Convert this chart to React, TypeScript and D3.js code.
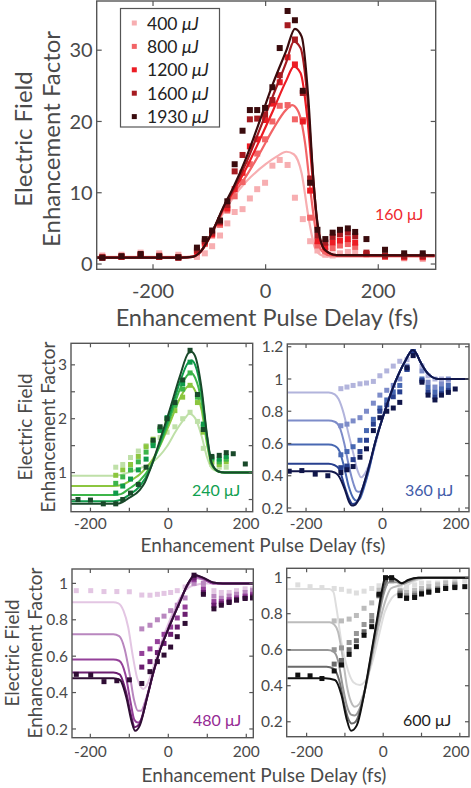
import React from 'react'
import * as d3 from 'd3'

const FONT = 'Lato, "Open Sans", sans-serif'
const INK = '#4a4a4a'

type Pt = [number, number]

// ---------- top panel (160 uJ probe)
const topEnergies = ['400', '800', '1200', '1600', '1930']
const topColors = ['#f7aeb1', '#f26466', '#ec1c24', '#a61b21', '#3a0b0d']
const topDelay = [-290, -256, -222, -189, -155, -122, -108, -95, -81, -68, -55, -41, -28, -15, -1, 12, 25, 39, 52, 66, 79, 92, 106, 119, 132, 146, 159, 179, 212, 246, 279]
const top400 = [1.2, 1.3, 1.6, 1.5, 1.3, 1.0, 1.5, 2.5, 4.0, 5.7, 7.3, 7.7, 9.2, 10.5, 11.4, 13.8, 14.6, 13.9, 9.3, 6.3, 3.2, 1.9, 1.3, 1.2, 1.5, 1.7, 1.6, 1.3, 1.0, 0.8, 0.7]
const top800 = [1.0, 1.1, 1.3, 1.2, 1.0, 1.6, 2.8, 4.0, 5.5, 7.5, 9.5, 11.5, 14.0, 15.5, 17.5, 20.0, 22.2, 22.3, 20.3, 20.2, 6.5, 2.6, 1.8, 2.2, 2.6, 2.8, 2.4, 1.4, 1.0, 0.9, 0.9]
const top1200 = [0.9, 1.0, 1.2, 1.0, 0.9, 1.8, 3.0, 4.2, 5.8, 7.8, 10.5, 12.8, 16.5, 17.5, 20.2, 22.5, 25.5, 29.0, 28.0, 20.0, 10.3, 3.2, 2.4, 3.0, 3.3, 3.5, 3.0, 1.4, 1.1, 1.0, 1.0]
const top1600 = [0.9, 1.0, 1.3, 1.0, 0.9, 2.0, 3.2, 4.4, 5.9, 8.3, 13.0, 15.3, 20.3, 20.4, 21.0, 23.0, 26.5, 33.5, 31.5, 24.0, 12.0, 4.0, 3.0, 3.8, 4.2, 4.4, 3.9, 1.6, 1.2, 1.1, 1.1]
const top1930 = [0.9, 1.1, 1.4, 1.1, 0.95, 2.3, 3.5, 4.7, 6.1, 8.8, 14.0, 18.7, 21.6, 21.6, 21.9, 24.8, 30.3, 35.5, 34.2, 24.3, 11.4, 4.8, 3.5, 4.4, 4.8, 5.0, 4.5, 3.5, 2.0, 1.5, 1.5]
const topFit400: Pt[] = [[-300, 1.0], [-150, 1.0], [-130, 1.05], [-115, 1.7], [-93, 4.6], [-75, 7.2], [-57, 9.4], [-34, 11.6], [0, 14.0], [20, 15.1], [37, 15.75], [50, 15.4], [64, 12.7], [76, 6.6], [88, 2.2], [100, 1.2], [115, 1.05], [300, 1.05]]
const topFit800: Pt[] = [[-300, 0.95], [-150, 0.95], [-130, 1.05], [-115, 1.75], [-93, 4.7], [-75, 7.5], [-57, 9.8], [-34, 12.4], [-10, 15.6], [13, 18.9], [37, 21.7], [47, 22.3], [58, 21.4], [70, 17], [80, 10], [90, 4.2], [100, 1.8], [115, 1.2], [300, 1.1]]
const topFit1200: Pt[] = [[-300, 0.9], [-150, 0.9], [-130, 1.0], [-115, 1.8], [-93, 4.8], [-75, 7.8], [-57, 10.2], [-34, 13.5], [-10, 17.5], [13, 21.5], [37, 25.8], [50, 27.7], [62, 26.8], [74, 20.5], [84, 11.5], [93, 4.7], [105, 1.9], [126, 1.2], [300, 1.15]]
const topFit1600: Pt[] = [[-300, 0.9], [-150, 0.9], [-130, 1.0], [-115, 1.8], [-93, 4.8], [-75, 7.9], [-57, 10.5], [-34, 14.3], [-10, 19.0], [13, 23.6], [37, 28.4], [50, 31.2], [62, 30.3], [74, 23.5], [84, 12.5], [93, 5.0], [105, 2.0], [126, 1.25], [300, 1.2]]
const topFit1930: Pt[] = [[-300, 0.9], [-150, 0.9], [-130, 1.0], [-115, 1.8], [-93, 4.8], [-75, 8.0], [-57, 10.8], [-34, 15.0], [-10, 20.2], [13, 25.3], [37, 30.0], [52, 33.0], [64, 31.9], [76, 23], [84, 12.7], [93, 5.2], [105, 2.0], [126, 1.26], [300, 1.2]]

// ---------- 240 uJ (green)
const greenColors = ['#bfe0a8', '#8cc63f', '#3db54a', '#0f9a4a', '#19492a']
const greenDelayAll = [-232, -200, -167, -135, -117, -97, -77, -57, -39, -21, -3, 17, 37, 56, 75, 90, 112, 131, 149, 167, 198]
const greenDelay = [-135, -117, -97, -77, -57, -39, -21, -3, 17, 37, 56, 75, 90, 112, 131, 149]
const green1 = [1.1, 1.15, 1.28, 1.4, 1.5, 1.58, 1.65, 1.75, 1.85, 2.0, 2.12, 1.95, 1.45, 1.15, 1.1, 1.1]
const green2 = [0.95, 1.05, 1.15, 1.3, 1.48, 1.62, 1.8, 1.95, 2.15, 2.4, 2.62, 2.3, 1.75, 1.2, 1.15, 1.2]
const green3 = [0.8, 0.92, 1.05, 1.2, 1.38, 1.55, 1.82, 2.0, 2.25, 2.55, 2.85, 2.4, 1.85, 1.25, 1.2, 1.25]
const green4 = [0.62, 0.75, 0.88, 1.05, 1.25, 1.5, 1.78, 2.02, 2.3, 2.65, 3.05, 2.45, 1.9, 1.28, 1.25, 1.3]
const green5 = [0.5, 0.49, 0.42, 0.42, 0.5, 0.62, 0.78, 1.1, 1.6, 1.85, 2.0, 2.3, 2.72, 3.27, 2.45, 1.8, 1.3, 1.32, 1.37, 1.35, 1.16]
const greenFit1: Pt[] = [[-250, 0.94], [-140, 0.94], [-107, 0.99], [-73, 1.08], [-39, 1.2], [-4, 1.48], [22, 1.8], [43, 2.01], [54, 2.09], [69, 2.01], [86, 1.67], [99, 1.3], [112, 1.08], [125, 1.03], [140, 1.0], [217, 1.0]]
const greenFit2: Pt[] = [[-250, 0.75], [-140, 0.75], [-120, 0.77], [-100, 0.84], [-73, 0.97], [-47, 1.17], [-21, 1.5], [4, 1.92], [30, 2.38], [50, 2.6], [58, 2.62], [69, 2.52], [86, 2.15], [99, 1.55], [112, 1.13], [129, 1.02], [145, 1.0], [217, 1.0]]
const greenFit3: Pt[] = [[-250, 0.585], [-140, 0.585], [-122, 0.6], [-101, 0.7], [-73, 0.85], [-47, 1.1], [-21, 1.52], [4, 2.0], [30, 2.55], [52, 2.83], [59, 2.85], [69, 2.76], [86, 2.3], [99, 1.62], [112, 1.15], [129, 1.02], [145, 1.0], [217, 1.0]]
const greenFit4: Pt[] = [[-250, 0.47], [-140, 0.47], [-123, 0.49], [-102, 0.58], [-73, 0.75], [-47, 1.06], [-21, 1.56], [4, 2.08], [30, 2.68], [52, 3.05], [60, 3.08], [69, 3.0], [86, 2.45], [99, 1.7], [112, 1.16], [129, 1.02], [145, 1.0], [217, 1.0]]
const greenFit5: Pt[] = [[-250, 0.42], [-140, 0.42], [-124, 0.43], [-103, 0.52], [-73, 0.68], [-60, 0.82], [-47, 1.05], [-21, 1.61], [4, 2.17], [30, 2.79], [52, 3.22], [60, 3.24], [69, 3.16], [86, 2.54], [99, 1.73], [112, 1.17], [129, 1.02], [145, 1.0], [217, 1.0]]

// ---------- 360 uJ (blue)
const blueColors = ['#b2b4dc', '#7d8cc9', '#4868b2', '#28408f', '#10164a']
const blueDelayAll = [-244, -211, -176, -143, -109, -93, -77, -59, -42, -24, -7, 11, 28, 45, 64, 80, 103, 119, 137, 154, 172, 190]
const blueDelay = [-109, -93, -77, -59, -42, -24, -7, 11, 28, 45, 64, 80, 103, 119, 137, 154, 172]
const blue1 = [0.94, 0.95, 0.96, 0.97, 0.975, 0.985, 1.02, 1.05, 1.08, 1.11, 1.12, 1.15, 1.08, 1.02, 1.0, 1.0, 0.99]
const blue2 = [0.71, 0.72, 0.74, 0.76, 0.8, 0.85, 0.9, 0.93, 0.96, 1.0, 1.08, 1.17, 1.05, 0.98, 0.95, 0.97, 1.0]
const blue3 = [0.53, 0.55, 0.58, 0.62, 0.68, 0.75, 0.82, 0.87, 0.92, 0.96, 1.06, 1.17, 1.0, 0.95, 0.92, 0.94, 0.96]
const blue4 = [0.45, 0.46, 0.5, 0.55, 0.62, 0.72, 0.8, 0.84, 0.89, 0.92, 1.06, 1.17, 0.99, 0.92, 0.89, 0.91, 0.93]
const blue5 = [0.428, 0.432, 0.41, 0.4, 0.42, 0.437, 0.457, 0.515, 0.567, 0.68, 0.76, 0.8, 0.82, 0.855, 1.07, 1.145, 0.98, 0.9, 0.87, 0.9, 0.917, 0.938]
const blueFit1: Pt[] = [[-250, 0.917], [-141, 0.917], [-125, 0.905], [-115, 0.876], [-102, 0.79], [-89, 0.66], [-76, 0.535], [-65, 0.43], [-56, 0.39], [-47, 0.41], [-35, 0.47], [-20, 0.58], [-5, 0.72], [6, 0.81], [33, 0.98], [59, 1.11], [79, 1.18], [88, 1.16], [98, 1.11], [120, 1.03], [146, 1.0], [228, 1.0]]
const blueFit2: Pt[] = [[-250, 0.742], [-141, 0.742], [-125, 0.735], [-112, 0.7], [-100, 0.6], [-88, 0.46], [-76, 0.35], [-68, 0.305], [-60, 0.3], [-50, 0.33], [-35, 0.45], [-20, 0.6], [6, 0.8], [33, 0.98], [59, 1.11], [79, 1.18], [88, 1.16], [98, 1.11], [120, 1.03], [146, 1.0], [228, 1.0]]
const blueFit3: Pt[] = [[-250, 0.593], [-141, 0.593], [-125, 0.585], [-112, 0.55], [-100, 0.45], [-88, 0.33], [-76, 0.26], [-68, 0.245], [-60, 0.255], [-48, 0.33], [-35, 0.44], [-20, 0.6], [6, 0.8], [33, 0.98], [59, 1.11], [79, 1.18], [88, 1.16], [98, 1.11], [120, 1.03], [146, 1.0], [228, 1.0]]
const blueFit4: Pt[] = [[-250, 0.474], [-141, 0.474], [-125, 0.465], [-113, 0.44], [-100, 0.34], [-88, 0.26], [-78, 0.225], [-70, 0.23], [-60, 0.27], [-45, 0.38], [-30, 0.5], [-20, 0.6], [6, 0.8], [33, 0.98], [59, 1.11], [79, 1.18], [88, 1.16], [98, 1.11], [120, 1.03], [146, 1.0], [228, 1.0]]
const blueFit5: Pt[] = [[-250, 0.428], [-141, 0.428], [-125, 0.42], [-115, 0.4], [-98, 0.31], [-88, 0.24], [-80, 0.215], [-72, 0.22], [-63, 0.25], [-41, 0.41], [-20, 0.6], [6, 0.8], [33, 0.98], [59, 1.11], [79, 1.18], [88, 1.16], [98, 1.11], [120, 1.03], [146, 1.0], [228, 1.0]]

// ---------- 480 uJ (purple)
const purpleColors = ['#e3c6e3', '#b987bf', '#944099', '#6b1e70', '#2f0d34']
const purpleDelayAll = [-236, -199, -165, -132, -100, -68, -47, -28, -11, 6, 23, 43, 66, 90, 117, 136, 156, 175, 197, 216]
const purpleDelay = [-68, -47, -28, -11, 6, 23, 43, 66, 90, 117, 136, 156, 175, 197, 216]
const purple1 = [0.96, 0.96, 0.955, 0.955, 0.954, 0.936, 0.935, 0.94, 0.945, 0.95, 0.96, 0.98, 1.0, 1.0, 0.96, 0.95, 0.95, 0.96, 0.97, 0.97]
const purple2 = [0.75, 0.77, 0.8, 0.82, 0.85, 0.88, 0.92, 1.0, 1.0, 0.93, 0.92, 0.93, 0.94, 0.95, 0.96]
const purple3 = [0.615, 0.64, 0.68, 0.72, 0.76, 0.81, 0.87, 1.02, 0.97, 0.9, 0.9, 0.91, 0.92, 0.93, 0.94]
const purple4 = [0.54, 0.57, 0.62, 0.67, 0.72, 0.76, 0.83, 1.03, 0.95, 0.88, 0.89, 0.9, 0.91, 0.92, 0.93]
const purple5 = [0.5, 0.496, 0.46, 0.465, 0.47, 0.45, 0.515, 0.57, 0.606, 0.65, 0.707, 0.78, 1.045, 0.94, 0.86, 0.88, 0.895, 0.908, 0.917, 0.92]
const purpleFit1: Pt[] = [[-250, 0.896], [-141, 0.896], [-128, 0.89], [-115, 0.85], [-103, 0.76], [-91, 0.6], [-80, 0.48], [-70, 0.43], [-64, 0.42], [-55, 0.44], [-40, 0.53], [-21, 0.66], [4, 0.8], [30, 0.92], [51, 0.975], [68, 0.99], [90, 1.0], [220, 1.0]]
const purpleFit2: Pt[] = [[-250, 0.72], [-141, 0.72], [-126, 0.71], [-112, 0.64], [-99, 0.5], [-88, 0.36], [-78, 0.3], [-70, 0.3], [-58, 0.36], [-42, 0.48], [-21, 0.64], [4, 0.78], [30, 0.91], [51, 0.99], [68, 1.03], [90, 1.02], [115, 1.0], [220, 1.0]]
const purpleFit3: Pt[] = [[-250, 0.582], [-141, 0.582], [-126, 0.575], [-110, 0.5], [-97, 0.35], [-87, 0.25], [-78, 0.235], [-68, 0.26], [-55, 0.37], [-38, 0.51], [-21, 0.635], [4, 0.77], [30, 0.9], [51, 1.0], [68, 1.04], [90, 1.025], [115, 1.0], [220, 1.0]]
const purpleFit4: Pt[] = [[-250, 0.51], [-141, 0.51], [-125, 0.5], [-108, 0.4], [-95, 0.27], [-86, 0.21], [-75, 0.225], [-55, 0.368], [-38, 0.514], [-21, 0.634], [4, 0.77], [30, 0.9], [51, 1.0], [68, 1.045], [90, 1.03], [115, 1.005], [140, 1.0], [220, 1.0]]
const purpleFit5: Pt[] = [[-250, 0.478], [-141, 0.478], [-124, 0.469], [-107, 0.368], [-94, 0.24], [-85, 0.19], [-73, 0.22], [-55, 0.368], [-38, 0.514], [-21, 0.634], [4, 0.77], [30, 0.9], [51, 1.0], [68, 1.046], [90, 1.03], [115, 1.005], [140, 1.0], [220, 1.0]]

// ---------- 600 uJ (gray)
const grayColors = ['#dedede', '#bcbcbc', '#979797', '#6a6a6a', '#111111']
const grayDelayAll = [-223, -191, -160, -128, -109, -89, -70, -50, -30, -11, 6, 22, 44, 61, 82, 100, 119, 142, 163, 187, 213]
const grayDelay = [-128, -109, -89, -70, -50, -30, -11, 6, 22, 44, 61, 82, 100, 119, 142, 163, 187]
const gray1 = [0.96, 0.95, 0.945, 0.94, 0.935, 0.925, 0.915, 0.925, 0.94, 0.955, 0.97, 0.98, 0.96, 0.95, 0.96, 0.97, 0.97, 0.97, 0.975, 0.98, 0.98]
const gray2 = [0.76, 0.76, 0.77, 0.79, 0.83, 0.86, 0.93, 0.97, 0.99, 0.93, 0.92, 0.93, 0.94, 0.95, 0.96, 0.97, 0.97]
const gray3 = [0.6, 0.61, 0.64, 0.69, 0.74, 0.79, 0.9, 0.98, 0.99, 0.92, 0.9, 0.91, 0.92, 0.93, 0.94, 0.95, 0.96]
const gray4 = [0.52, 0.54, 0.6, 0.65, 0.7, 0.76, 0.9, 0.99, 0.99, 0.91, 0.89, 0.9, 0.91, 0.92, 0.93, 0.94, 0.95]
const gray5 = [0.459, 0.455, 0.44, 0.482, 0.515, 0.574, 0.617, 0.68, 0.728, 0.908, 1.0, 1.0, 0.9, 0.885, 0.89, 0.91, 0.92, 0.93, 0.94, 0.945, 0.95]
const grayFit1: Pt[] = [[-250, 0.937], [-140, 0.937], [-130, 0.92], [-122, 0.83], [-109, 0.64], [-96, 0.515], [-78, 0.42], [-61, 0.404], [-43, 0.44], [-26, 0.55], [-9, 0.7], [4, 0.81], [22, 0.886], [44, 0.92], [65, 0.96], [91, 0.99], [120, 1.0], [226, 1.0]]
const grayFit2: Pt[] = [[-250, 0.752], [-140, 0.752], [-128, 0.74], [-118, 0.7], [-106, 0.56], [-95, 0.4], [-84, 0.31], [-74, 0.283], [-62, 0.3], [-48, 0.38], [-30, 0.55], [-12, 0.73], [4, 0.86], [20, 0.94], [40, 0.955], [60, 0.97], [85, 0.99], [110, 1.0], [226, 1.0]]
const grayFit3: Pt[] = [[-250, 0.598], [-145, 0.598], [-130, 0.59], [-118, 0.54], [-106, 0.4], [-95, 0.29], [-84, 0.24], [-74, 0.235], [-62, 0.27], [-48, 0.37], [-32, 0.54], [-15, 0.74], [0, 0.9], [15, 0.975], [35, 0.975], [50, 0.965], [68, 0.98], [95, 1.0], [226, 1.0]]
const grayFit4: Pt[] = [[-250, 0.505], [-148, 0.505], [-130, 0.495], [-115, 0.43], [-102, 0.3], [-92, 0.22], [-82, 0.19], [-72, 0.2], [-58, 0.28], [-42, 0.44], [-25, 0.65], [-8, 0.85], [4, 0.96], [17, 1.0], [35, 0.985], [48, 0.97], [65, 0.985], [91, 1.0], [226, 1.0]]
const grayFit5: Pt[] = [[-250, 0.441], [-152, 0.441], [-126, 0.432], [-109, 0.348], [-96, 0.22], [-84, 0.15], [-69, 0.18], [-52, 0.33], [-35, 0.533], [-17, 0.756], [-4, 0.922], [4, 0.993], [17, 1.005], [35, 0.987], [48, 0.969], [65, 0.987], [91, 1.0], [226, 1.0]]

type Series = { color: string; xs: number[]; ys: number[]; fit: Pt[] }

type PanelProps = {
  id: string
  left: number; top: number; right: number; bottom: number
  xDomain: [number, number]; yDomain: [number, number]
  xTicks: number[]; xMarks: number[]
  yTicks: number[]; yMarks: number[]
  fontSize: number; xLabelY: number
  mark: number; lineWidth: number; tickLen: number
  series: Series[]
}

function Panel(p: PanelProps) {
  const x = d3.scaleLinear().domain(p.xDomain).range([p.left, p.right])
  const y = d3.scaleLinear().domain(p.yDomain).range([p.bottom, p.top])
  const line = d3.line<Pt>().x(d => x(d[0])).y(d => y(d[1])).curve(d3.curveMonotoneX)
  const h = p.mark / 2
  return (
    <g>
      <defs>
        <clipPath id={p.id}>
          <rect x={p.left} y={p.top} width={p.right - p.left} height={p.bottom - p.top} />
        </clipPath>
      </defs>
      <g clipPath={`url(#${p.id})`}>
        {p.series.map((s, i) => (
          <g key={i}>
            {s.ys.map((v, j) => (
              <rect key={j} x={x(s.xs[j]) - h} y={y(v) - h} width={p.mark} height={p.mark} fill={s.color} />
            ))}
            <path d={line(s.fit) ?? ''} fill="none" stroke={s.color} strokeWidth={p.lineWidth} />
          </g>
        ))}
      </g>
      <g stroke="#555" strokeWidth={1.2}>
        {p.xMarks.map(v => (
          <g key={'x' + v}>
            <line x1={x(v)} x2={x(v)} y1={p.bottom} y2={p.bottom - p.tickLen} />
            <line x1={x(v)} x2={x(v)} y1={p.top} y2={p.top + p.tickLen} />
          </g>
        ))}
        {p.yMarks.map(v => (
          <g key={'y' + v}>
            <line x1={p.left} x2={p.left + p.tickLen} y1={y(v)} y2={y(v)} />
            <line x1={p.right} x2={p.right - p.tickLen} y1={y(v)} y2={y(v)} />
          </g>
        ))}
      </g>
      <rect x={p.left} y={p.top} width={p.right - p.left} height={p.bottom - p.top} fill="none" stroke="#555" strokeWidth={1.4} />
      <g fontFamily={FONT} fontSize={p.fontSize} fill={INK}>
        {p.xTicks.map(v => (
          // keep the last label inside the page
          <text key={'xl' + v} x={Math.min(x(v), 456)} y={p.xLabelY} textAnchor="middle">{v < 0 ? '-' + Math.abs(v) : String(v)}</text>
        ))}
        {p.yTicks.map(v => (
          <text key={'yl' + v} x={p.left - 4} y={y(v) + p.fontSize * 0.36} textAnchor="end">{String(v)}</text>
        ))}
      </g>
    </g>
  )
}

function YTitle({ x1, x2, cy, size }: { x1: number; x2: number; cy: number; size: number }) {
  return (
    <g fontFamily={FONT} fontSize={size} fill={INK} textAnchor="middle">
      <text transform={`translate(${x1},${cy}) rotate(-90)`}>Electric Field</text>
      <text transform={`translate(${x2},${cy}) rotate(-90)`}>Enhancement Factor</text>
    </g>
  )
}

function build(colors: string[], xsLight: number[], xsDark: number[], ys: number[][], fits: Pt[][], lightFull: boolean): Series[] {
  return colors.map((c, i) => ({
    color: c,
    xs: i === 4 || (i === 0 && lightFull) ? xsDark : xsLight,
    ys: ys[i],
    fit: fits[i],
  }))
}

export default function App() {
  const topSeries: Series[] = [top400, top800, top1200, top1600, top1930].map((ys, i) => ({
    color: topColors[i], xs: topDelay, ys,
    fit: [topFit400, topFit800, topFit1200, topFit1600, topFit1930][i],
  }))
  const greenSeries = build(greenColors, greenDelay, greenDelayAll, [green1, green2, green3, green4, green5], [greenFit1, greenFit2, greenFit3, greenFit4, greenFit5], false)
  const blueSeries = build(blueColors, blueDelay, blueDelayAll, [blue1, blue2, blue3, blue4, blue5], [blueFit1, blueFit2, blueFit3, blueFit4, blueFit5], false)
  const purpleSeries = build(purpleColors, purpleDelay, purpleDelayAll, [purple1, purple2, purple3, purple4, purple5], [purpleFit1, purpleFit2, purpleFit3, purpleFit4, purpleFit5], true)
  const graySeries = build(grayColors, grayDelay, grayDelayAll, [gray1, gray2, gray3, gray4, gray5], [grayFit1, grayFit2, grayFit3, grayFit4, grayFit5], true)

  const small = { fontSize: 15.5, mark: 5, lineWidth: 2, tickLen: 4 }
  const fsMarks = [-200, -100, 0, 100, 200]

  return (
    <svg width={471} height={788} style={{ display: 'block', position: 'absolute', left: 0, top: 0 }}>
      <rect width={471} height={788} fill="#fff" />
      <Panel id="cTop" left={96.7} top={1} right={435.7} bottom={269.3} xDomain={[-300, 302]} yDomain={[-0.74, 36.9]}
        xTicks={[-200, 0, 200]} xMarks={[-200, 0, 200]} yTicks={[0, 10, 20, 30]} yMarks={[0, 10, 20, 30]}
        fontSize={20} xLabelY={298} mark={6} lineWidth={2.2} tickLen={5} series={topSeries} />
      <g>
        <rect x={120.5} y={8.5} width={99} height={118.5} fill="#fff" stroke="#555" strokeWidth={1.2} />
        {topEnergies.map((e, i) => (
          <g key={e}>
            <rect x={131.8} y={20.5 + i * 23.4} width={5} height={5} fill={topColors[i]} />
            <text x={147} y={29.5 + i * 23.4} fontFamily={FONT} fontSize={17.5} fill="#222">
              {e + ' '}<tspan fontStyle="italic">μJ</tspan>
            </text>
          </g>
        ))}
      </g>
      <text x={375} y={220} fontFamily={FONT} fontSize={16} fill="#ee2a2f">160 μJ</text>
      <YTitle x1={32} x2={60} cy={139} size={24} />
      <text x={267} y={326} textAnchor="middle" fontFamily={FONT} fontSize={23.5} fill={INK}>Enhancement Pulse Delay (fs)</text>

      <Panel id="cGreen" left={71} top={343.3} right={252.7} bottom={511.7} xDomain={[-250, 217]} yDomain={[0.274, 3.4]}
        xTicks={[-200, 0, 200]} xMarks={fsMarks} yTicks={[1, 2, 3]} yMarks={[0.5, 1, 1.5, 2, 2.5, 3]}
        xLabelY={529} {...small} series={greenSeries} />
      <text x={192} y={496} fontFamily={FONT} fontSize={16} fill="#10a050">240 μJ</text>
      <Panel id="cBlue" left={287.3} top={344} right={469} bottom={511.7} xDomain={[-249, 226]} yDomain={[0.177, 1.217]}
        xTicks={[-200, 0, 200]} xMarks={fsMarks} yTicks={[1.2, 1, 0.8, 0.6, 0.4, 0.2]} yMarks={[0.2, 0.4, 0.6, 0.8, 1, 1.2]}
        xLabelY={529} {...small} series={blueSeries} />
      <text x={405} y={496} fontFamily={FONT} fontSize={16} fill="#3f5ba9">360 μJ</text>
      <YTitle x1={32} x2={55} cy={427} size={19} />
      <text x={263} y={552} textAnchor="middle" fontFamily={FONT} fontSize={19} fill={INK}>Enhancement Pulse Delay (fs)</text>

      <Panel id="cPurple" left={72} top={569} right={253.3} bottom={737.7} xDomain={[-247, 218]} yDomain={[0.152, 1.079]}
        xTicks={[-200, 0, 200]} xMarks={fsMarks} yTicks={[1, 0.8, 0.6, 0.4, 0.2]} yMarks={[0.2, 0.4, 0.6, 0.8, 1]}
        xLabelY={757} {...small} series={purpleSeries} />
      <text x={193} y={726} fontFamily={FONT} fontSize={16} fill="#952a94">480 μJ</text>
      <Panel id="cGray" left={286.7} top={568.3} right={469} bottom={736.7} xDomain={[-252, 224]} yDomain={[0.117, 1.052]}
        xTicks={[-200, 0, 200]} xMarks={fsMarks} yTicks={[1, 0.8, 0.6, 0.4, 0.2]} yMarks={[0.2, 0.4, 0.6, 0.8, 1]}
        xLabelY={757} {...small} series={graySeries} />
      <text x={403} y={726} fontFamily={FONT} fontSize={16} fill="#222">600 μJ</text>
      <YTitle x1={19} x2={42} cy={653} size={19} />
      <text x={264} y={782} textAnchor="middle" fontFamily={FONT} fontSize={19} fill={INK}>Enhancement Pulse Delay (fs)</text>
    </svg>
  )
}
